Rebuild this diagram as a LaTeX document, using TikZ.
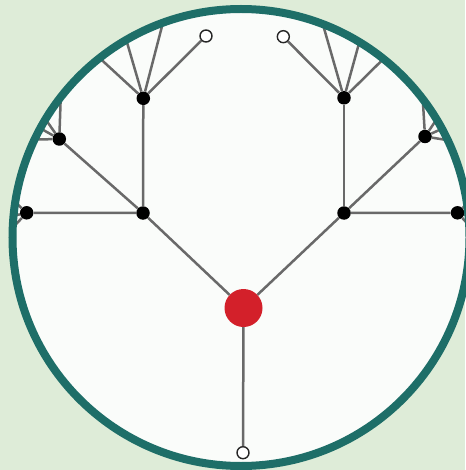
\documentclass[tikz,border=0pt]{standalone}
\definecolor{bg}{RGB}{222,236,216}
\definecolor{disk}{RGB}{250,252,250}
\definecolor{rim}{RGB}{30,110,104}
\definecolor{edgec}{RGB}{105,105,105}
\definecolor{hubc}{RGB}{211,32,42}
\begin{document}
\begin{tikzpicture}[x=1pt,y=-1pt,
  edge/.style={draw=edgec, line width=2.5pt},
  dot/.style={circle, fill=black, minimum size=13.5pt, inner sep=0pt},
  leaf/.style={circle, draw=black!85, line width=1.4pt, fill=white, minimum size=12pt, inner sep=0pt},
  hubnode/.style={circle, fill=hubc, minimum size=38pt, inner sep=0pt}]
\fill[bg] (0,0) rectangle (465,470);
\useasboundingbox (0,0) rectangle (465,470);
\fill[disk] (241,237.5) circle (229pt);
\begin{scope}
\clip (241,237.5) circle (229pt);
% nodes
\node[hubnode] (hub) at (243.5,308) {};
\node[leaf] (b) at (243,452.7) {};
\node[dot] (L1) at (143,213) {};
\node[dot] (R1) at (344,213) {};
\node[dot] (L2) at (143.3,98.3) {};
\node[dot] (R2) at (344,97.8) {};
\node[dot] (L3) at (59.3,139) {};
\node[dot] (R3) at (425,136.5) {};
\node[dot] (L4) at (26.7,212.8) {};
\node[dot] (R4) at (457.5,212.8) {};
\node[leaf] (O1) at (206,36) {};
\node[leaf] (O2) at (283.3,36.7) {};
% free ends
\coordinate (a1) at (60.4,22);
\coordinate (a2) at (110.4,-14.6);
\coordinate (a3) at (180.4,-44.6);
\coordinate (c1) at (304.6,-39.4);
\coordinate (c2) at (372.6,-6);
\coordinate (c3) at (417.4,25.4);
\coordinate (d1) at (62,60);
\coordinate (d2) at (35.3,104.4);
\coordinate (d3) at (27.3,121);
\coordinate (d4) at (15,140);
\coordinate (e1) at (421,70);
\coordinate (e2) at (445,107);
\coordinate (e3) at (453.6,123.5);
\coordinate (e4) at (462,142.5);
\coordinate (f1) at (10,197.3);
\coordinate (f2) at (6.7,217.3);
\coordinate (f3) at (10,230.7);
\coordinate (g1) at (474,197.3);
\coordinate (g2) at (477,217.3);
\coordinate (g3) at (474,230.7);
% edges
\draw[edge] (hub) -- (L1);
\draw[edge] (hub) -- (R1);
\draw[edge] (hub) -- (b);
\draw[edge] (L1) -- (L2);
\draw[edge] (L1) -- (L3);
\draw[edge] (L1) -- (L4);
\draw[edge] (R1) -- (R2);
\draw[edge] (R1) -- (R3);
\draw[edge] (R1) -- (R4);
\draw[edge] (L2) -- (O1);
\draw[edge] (L2) -- (a1);
\draw[edge] (L2) -- (a2);
\draw[edge] (L2) -- (a3);
\draw[edge] (R2) -- (O2);
\draw[edge] (R2) -- (c1);
\draw[edge] (R2) -- (c2);
\draw[edge] (R2) -- (c3);
\draw[edge] (L3) -- (d1);
\draw[edge] (L3) -- (d2);
\draw[edge] (L3) -- (d3);
\draw[edge] (L3) -- (d4);
\draw[edge] (R3) -- (e1);
\draw[edge] (R3) -- (e2);
\draw[edge] (R3) -- (e3);
\draw[edge] (R3) -- (e4);
\draw[edge] (L4) -- (f1);
\draw[edge] (L4) -- (f2);
\draw[edge] (L4) -- (f3);
\draw[edge] (R4) -- (g1);
\draw[edge] (R4) -- (g2);
\draw[edge] (R4) -- (g3);
\end{scope}
\draw[rim, line width=8pt] (241,237.5) circle (228.5pt);
\end{tikzpicture}
\end{document}
